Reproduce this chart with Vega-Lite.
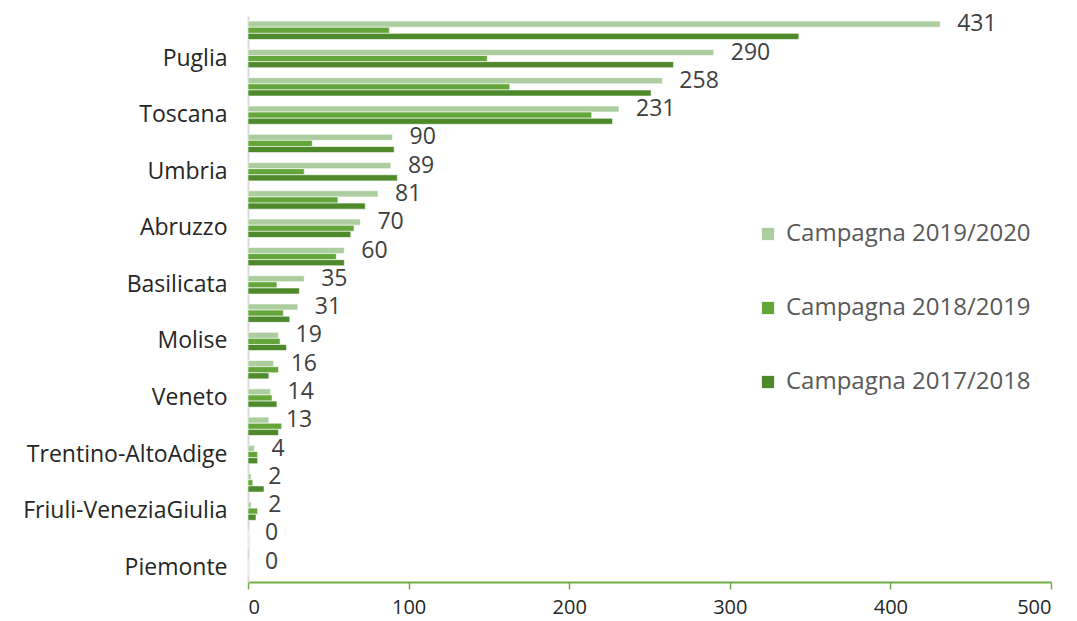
{
  "$schema": "https://vega.github.io/schema/vega-lite/v6.json",
  "width": 1077,
  "height": 621,
  "autosize": {"type": "fit", "contains": "padding"},
  "padding": {"left": 22, "top": 14, "right": 25, "bottom": 4},
  "background": "white",
  "config": {
    "font": "Open Sans",
    "view": {"stroke": null}
  },
  "data": {
    "values": [
      {"regione": "Sicilia", "campagna": "Campagna 2019/2020", "superficie": 431},
      {"regione": "Sicilia", "campagna": "Campagna 2018/2019", "superficie": 88},
      {"regione": "Sicilia", "campagna": "Campagna 2017/2018", "superficie": 343},
      {"regione": "Puglia", "campagna": "Campagna 2019/2020", "superficie": 290},
      {"regione": "Puglia", "campagna": "Campagna 2018/2019", "superficie": 149},
      {"regione": "Puglia", "campagna": "Campagna 2017/2018", "superficie": 265},
      {"regione": "Calabria", "campagna": "Campagna 2019/2020", "superficie": 258},
      {"regione": "Calabria", "campagna": "Campagna 2018/2019", "superficie": 163},
      {"regione": "Calabria", "campagna": "Campagna 2017/2018", "superficie": 251},
      {"regione": "Toscana", "campagna": "Campagna 2019/2020", "superficie": 231},
      {"regione": "Toscana", "campagna": "Campagna 2018/2019", "superficie": 214},
      {"regione": "Toscana", "campagna": "Campagna 2017/2018", "superficie": 227},
      {"regione": "Lazio", "campagna": "Campagna 2019/2020", "superficie": 90},
      {"regione": "Lazio", "campagna": "Campagna 2018/2019", "superficie": 40},
      {"regione": "Lazio", "campagna": "Campagna 2017/2018", "superficie": 91},
      {"regione": "Umbria", "campagna": "Campagna 2019/2020", "superficie": 89},
      {"regione": "Umbria", "campagna": "Campagna 2018/2019", "superficie": 35},
      {"regione": "Umbria", "campagna": "Campagna 2017/2018", "superficie": 93},
      {"regione": "Sardegna", "campagna": "Campagna 2019/2020", "superficie": 81},
      {"regione": "Sardegna", "campagna": "Campagna 2018/2019", "superficie": 56},
      {"regione": "Sardegna", "campagna": "Campagna 2017/2018", "superficie": 73},
      {"regione": "Abruzzo", "campagna": "Campagna 2019/2020", "superficie": 70},
      {"regione": "Abruzzo", "campagna": "Campagna 2018/2019", "superficie": 66},
      {"regione": "Abruzzo", "campagna": "Campagna 2017/2018", "superficie": 64},
      {"regione": "Campania", "campagna": "Campagna 2019/2020", "superficie": 60},
      {"regione": "Campania", "campagna": "Campagna 2018/2019", "superficie": 55},
      {"regione": "Campania", "campagna": "Campagna 2017/2018", "superficie": 60},
      {"regione": "Basilicata", "campagna": "Campagna 2019/2020", "superficie": 35},
      {"regione": "Basilicata", "campagna": "Campagna 2018/2019", "superficie": 18},
      {"regione": "Basilicata", "campagna": "Campagna 2017/2018", "superficie": 32},
      {"regione": "Marche", "campagna": "Campagna 2019/2020", "superficie": 31},
      {"regione": "Marche", "campagna": "Campagna 2018/2019", "superficie": 22},
      {"regione": "Marche", "campagna": "Campagna 2017/2018", "superficie": 26},
      {"regione": "Molise", "campagna": "Campagna 2019/2020", "superficie": 19},
      {"regione": "Molise", "campagna": "Campagna 2018/2019", "superficie": 20},
      {"regione": "Molise", "campagna": "Campagna 2017/2018", "superficie": 24},
      {"regione": "Liguria", "campagna": "Campagna 2019/2020", "superficie": 16},
      {"regione": "Liguria", "campagna": "Campagna 2018/2019", "superficie": 19},
      {"regione": "Liguria", "campagna": "Campagna 2017/2018", "superficie": 13},
      {"regione": "Veneto", "campagna": "Campagna 2019/2020", "superficie": 14},
      {"regione": "Veneto", "campagna": "Campagna 2018/2019", "superficie": 15},
      {"regione": "Veneto", "campagna": "Campagna 2017/2018", "superficie": 18},
      {"regione": "Lombardia", "campagna": "Campagna 2019/2020", "superficie": 13},
      {"regione": "Lombardia", "campagna": "Campagna 2018/2019", "superficie": 21},
      {"regione": "Lombardia", "campagna": "Campagna 2017/2018", "superficie": 19},
      {"regione": "Trentino-AltoAdige", "campagna": "Campagna 2019/2020", "superficie": 4},
      {"regione": "Trentino-AltoAdige", "campagna": "Campagna 2018/2019", "superficie": 6},
      {"regione": "Trentino-AltoAdige", "campagna": "Campagna 2017/2018", "superficie": 6},
      {"regione": "Emilia-Romagna", "campagna": "Campagna 2019/2020", "superficie": 2},
      {"regione": "Emilia-Romagna", "campagna": "Campagna 2018/2019", "superficie": 3},
      {"regione": "Emilia-Romagna", "campagna": "Campagna 2017/2018", "superficie": 10},
      {"regione": "Friuli-VeneziaGiulia", "campagna": "Campagna 2019/2020", "superficie": 2},
      {"regione": "Friuli-VeneziaGiulia", "campagna": "Campagna 2018/2019", "superficie": 6},
      {"regione": "Friuli-VeneziaGiulia", "campagna": "Campagna 2017/2018", "superficie": 5},
      {"regione": "Valle d'Aosta", "campagna": "Campagna 2019/2020", "superficie": 0},
      {"regione": "Valle d'Aosta", "campagna": "Campagna 2018/2019", "superficie": 0},
      {"regione": "Valle d'Aosta", "campagna": "Campagna 2017/2018", "superficie": 0},
      {"regione": "Piemonte", "campagna": "Campagna 2019/2020", "superficie": 0},
      {"regione": "Piemonte", "campagna": "Campagna 2018/2019", "superficie": 0},
      {"regione": "Piemonte", "campagna": "Campagna 2017/2018", "superficie": 0}
    ]
  },
  "encoding": {
    "y": {
      "field": "regione",
      "type": "nominal",
      "sort": null,
      "scale": {"paddingInner": 0.35, "paddingOuter": 0.18},
      "axis": {
        "title": null,
        "ticks": false,
        "domainColor": "#d9d9d9",
        "domainWidth": 2,
        "labelFontSize": 23,
        "labelColor": "#262626",
        "labelPadding": 21,
        "labelLimit": 400,
        "labelExpr": "indexof(['Puglia','Toscana','Umbria','Abruzzo','Basilicata','Molise','Veneto','Trentino-AltoAdige','Friuli-VeneziaGiulia','Piemonte'], datum.value) >= 0 ? datum.label : ''"
      }
    },
    "x": {
      "field": "superficie",
      "type": "quantitative",
      "scale": {"domain": [0, 500]},
      "axis": {
        "title": null,
        "values": [0, 100, 200, 300, 400, 500],
        "grid": false,
        "domainColor": "#70ad47",
        "domainWidth": 2,
        "tickColor": "#70ad47",
        "tickWidth": 1.5,
        "tickSize": 7,
        "labelFontSize": 20,
        "labelColor": "#262626",
        "labelPadding": 8
      }
    }
  },
  "layer": [
    {
      "mark": {"type": "bar", "stroke": "white", "strokeWidth": 0.6},
      "encoding": {
        "yOffset": {
          "field": "campagna",
          "type": "nominal",
          "sort": ["Campagna 2019/2020", "Campagna 2018/2019", "Campagna 2017/2018"]
        },
        "color": {
          "field": "campagna",
          "type": "nominal",
          "sort": ["Campagna 2019/2020", "Campagna 2018/2019", "Campagna 2017/2018"],
          "scale": {
            "domain": ["Campagna 2019/2020", "Campagna 2018/2019", "Campagna 2017/2018"],
            "range": ["#acce9f", "#65a63b", "#4e8a2c"]
          },
          "legend": {
            "title": null,
            "orient": "none",
            "legendX": 508,
            "legendY": 206,
            "symbolType": "square",
            "symbolSize": 150,
            "symbolStrokeWidth": 0,
            "labelFontSize": 24,
            "labelLimit": 400,
            "labelColor": "#595959",
            "labelOffset": 6,
            "rowPadding": 50
          }
        }
      }
    },
    {
      "transform": [{"filter": "datum.campagna === 'Campagna 2019/2020'"}],
      "mark": {"type": "text", "align": "left", "baseline": "middle", "dx": 17, "dy": -6, "fontSize": 23, "color": "#404040"},
      "encoding": {
        "text": {"field": "superficie", "type": "quantitative"}
      }
    }
  ]
}
